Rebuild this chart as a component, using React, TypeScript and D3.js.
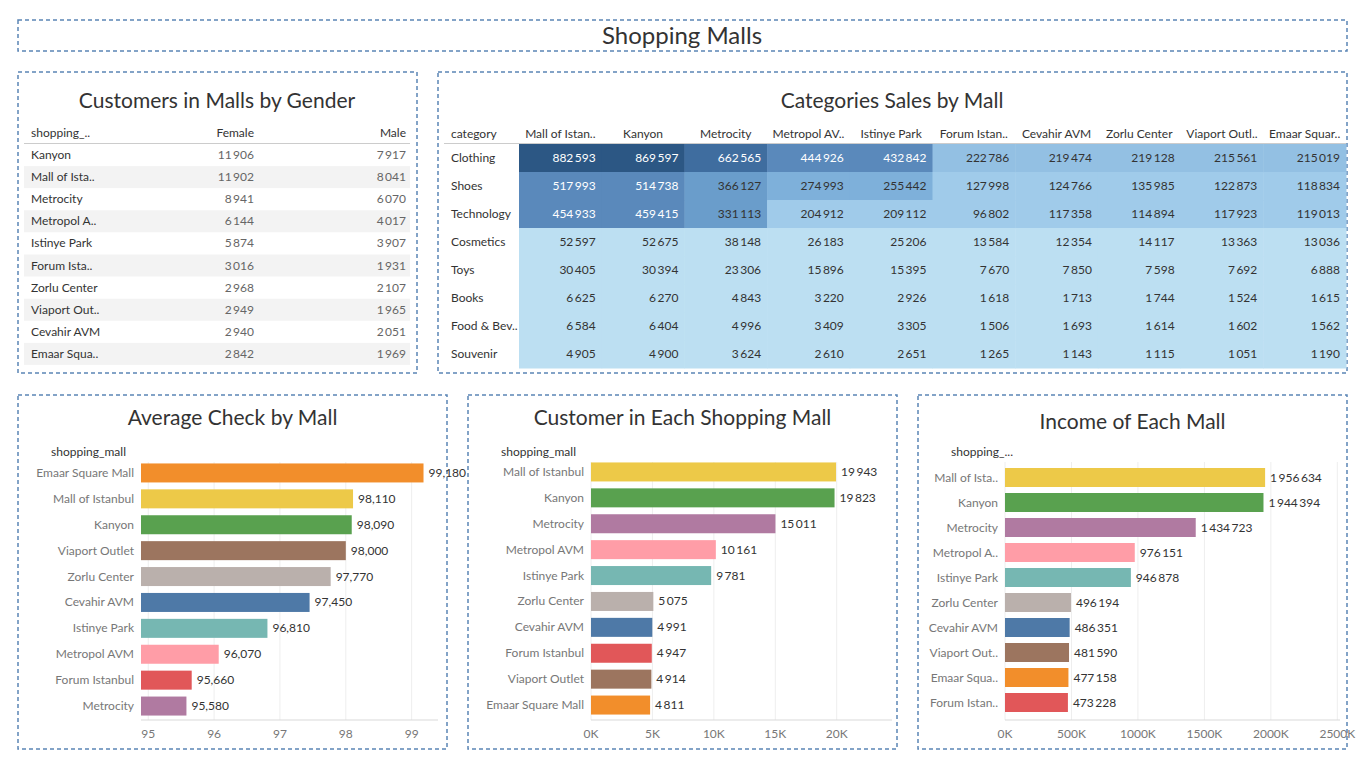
import * as d3 from 'd3';

const COLORS: Record<string, string> = {
  'Emaar Square Mall': '#f28e2b',
  'Mall of Istanbul': '#edc948',
  'Kanyon': '#59a14f',
  'Viaport Outlet': '#9c755f',
  'Zorlu Center': '#bab0ac',
  'Cevahir AVM': '#4e79a7',
  'Istinye Park': '#76b7b2',
  'Metropol AVM': '#ff9da7',
  'Forum Istanbul': '#e15759',
  'Metrocity': '#b07aa1',
};

const GENDER_MALLS = ['Kanyon', 'Mall of Ista..', 'Metrocity', 'Metropol A..', 'Istinye Park', 'Forum Ista..', 'Zorlu Center', 'Viaport Out..', 'Cevahir AVM', 'Emaar Squa..'];
const FEMALE = [11906, 11902, 8941, 6144, 5874, 3016, 2968, 2949, 2940, 2842];
const MALE = [7917, 8041, 6070, 4017, 3907, 1931, 2107, 1965, 2051, 1969];

const CATEGORIES = ['Clothing', 'Shoes', 'Technology', 'Cosmetics', 'Toys', 'Books', 'Food & Bev..', 'Souvenir'];
const HEAT_MALLS = ['Mall of Istan..', 'Kanyon', 'Metrocity', 'Metropol AV..', 'Istinye Park', 'Forum Istan..', 'Cevahir AVM', 'Zorlu Center', 'Viaport Outl..', 'Emaar Squar..'];
const SALES = [
  [882593, 869597, 662565, 444926, 432842, 222786, 219474, 219128, 215561, 215019],
  [517993, 514738, 366127, 274993, 255442, 127998, 124766, 135985, 122873, 118834],
  [454933, 459415, 331113, 204912, 209112, 96802, 117358, 114894, 117923, 119013],
  [52597, 52675, 38148, 26183, 25206, 13584, 12354, 14117, 13363, 13036],
  [30405, 30394, 23306, 15896, 15395, 7670, 7850, 7598, 7692, 6888],
  [6625, 6270, 4843, 3220, 2926, 1618, 1713, 1744, 1524, 1615],
  [6584, 6404, 4996, 3409, 3305, 1506, 1693, 1614, 1602, 1562],
  [4905, 4900, 3624, 2610, 2651, 1265, 1143, 1115, 1051, 1190],
];

const AVG_MALLS = ['Emaar Square Mall', 'Mall of Istanbul', 'Kanyon', 'Viaport Outlet', 'Zorlu Center', 'Cevahir AVM', 'Istinye Park', 'Metropol AVM', 'Forum Istanbul', 'Metrocity'];
const AVG_CHECK = [99.18, 98.11, 98.09, 98.0, 97.77, 97.45, 96.81, 96.07, 95.66, 95.58];
const AVG_TICKS = [95, 96, 97, 98, 99];

const CUST_MALLS = ['Mall of Istanbul', 'Kanyon', 'Metrocity', 'Metropol AVM', 'Istinye Park', 'Zorlu Center', 'Cevahir AVM', 'Forum Istanbul', 'Viaport Outlet', 'Emaar Square Mall'];
const CUSTOMERS = [19943, 19823, 15011, 10161, 9781, 5075, 4991, 4947, 4914, 4811];
const CUST_TICKS = [0, 5000, 10000, 15000, 20000];

const INC_MALLS = ['Mall of Istanbul', 'Kanyon', 'Metrocity', 'Metropol AVM', 'Istinye Park', 'Zorlu Center', 'Cevahir AVM', 'Viaport Outlet', 'Emaar Square Mall', 'Forum Istanbul'];
const INC_LABELS = ['Mall of Ista..', 'Kanyon', 'Metrocity', 'Metropol A..', 'Istinye Park', 'Zorlu Center', 'Cevahir AVM', 'Viaport Out..', 'Emaar Squa..', 'Forum Istan..'];
const INCOME = [1956634, 1944394, 1434723, 976151, 946878, 496194, 486351, 481590, 477158, 473228];
const INC_TICKS = [0, 500000, 1000000, 1500000, 2000000, 2500000];

const FONT = 'Lato, "Open Sans", sans-serif';
const BORDER = '#5b85b5';
const spaced = (v: number) => d3.format(',')(v).replace(/,/g, '\u2009');

function Box({ x, y, w, h }: { x: number; y: number; w: number; h: number }) {
  return <rect x={x} y={y} width={w} height={h} fill="none" stroke={BORDER} strokeWidth={1.5} strokeDasharray="4,3" />;
}

interface BarPanelProps {
  x0: number; title: string; titleY: number; header: string;
  labels: string[]; colors: string[]; values: number[];
  domain: [number, number]; range: [number, number];
  ticks: number[]; tickFmt: (v: number) => string; valFmt: (v: number) => string;
  rowTop: number; rowStep: number; barH: number; labelRight: number;
}

function BarPanel(p: BarPanelProps) {
  const x = d3.scaleLinear().domain(p.domain).range(p.range);
  const y = d3.scaleBand<number>().domain(d3.range(p.values.length)).range([p.rowTop, p.rowTop + p.rowStep * p.values.length]);
  const axisY = 720;
  return (
    <g>
      <Box x={p.x0} y={395} w={429} h={354} />
      <text x={p.x0 + 214.5} y={p.titleY} textAnchor="middle" fontSize={21} fill="#333">{p.title}</text>
      <text x={p.x0 + 33} y={456} fontSize={12} fill="#333">{p.header}</text>
      {p.ticks.map((t) => (
        <line key={t} x1={x(t)} x2={x(t)} y1={462} y2={axisY} stroke="#eeeeee" />
      ))}
      <line x1={p.range[0]} x2={p.range[1]} y1={axisY} y2={axisY} stroke="#d9d9d9" />
      {p.ticks.map((t) => (
        <text key={t} x={x(t)} y={axisY + 18} textAnchor="middle" fontSize={12} fill="#777">{p.tickFmt(t)}</text>
      ))}
      {p.values.map((v, i) => {
        const cy = y(i)! + p.rowStep / 2;
        return (
          <g key={i}>
            <text x={p.labelRight} y={cy + 4} textAnchor="end" fontSize={12} fill="#777">{p.labels[i]}</text>
            <rect x={p.range[0]} y={cy - p.barH / 2} width={x(v) - p.range[0]} height={p.barH} fill={p.colors[i]} />
            <text x={x(v) + 5} y={cy + 4} fontSize={12} fill="#333">{p.valFmt(v)}</text>
          </g>
        );
      })}
    </g>
  );
}

function heatFill(v: number) {
  return d3.scaleThreshold<number, string>()
    .domain([90000, 215000, 240000, 300000, 400000, 600000, 800000])
    .range(['#bcdff2', '#a0cbea', '#93c0e3', '#7eb0da', '#6a9dcb', '#5a89bb', '#3f6d9f', '#2c5784'])(v);
}

export default function App() {
  const colX = d3.scaleBand<number>().domain(d3.range(10)).range([519, 1346]);
  const rowY = d3.scaleBand<number>().domain(d3.range(8)).range([144, 368]);
  return (
    <svg width={1365} height={767} style={{ fontFamily: FONT, display: 'block', position: 'absolute', left: 0, top: 0 }}>
      <Box x={18} y={20} w={1329} h={31} />
      <text x={682} y={44} textAnchor="middle" fontSize={24} fill="#333">Shopping Malls</text>

      {/* gender table */}
      <Box x={18} y={72} w={399} h={301} />
      <text x={217} y={108} textAnchor="middle" fontSize={21} fill="#333">Customers in Malls by Gender</text>
      <text x={31} y={137} fontSize={12} fill="#333">shopping_..</text>
      <text x={254} y={137} textAnchor="end" fontSize={12} fill="#333">Female</text>
      <text x={406} y={137} textAnchor="end" fontSize={12} fill="#333">Male</text>
      <line x1={24} x2={410} y1={143.5} y2={143.5} stroke="#ccc" />
      {GENDER_MALLS.map((m, i) => {
        const cy = 155 + i * 22.1;
        return (
          <g key={m}>
            {i % 2 === 1 && <rect x={24} y={cy - 11} width={386} height={22} fill="#f3f3f3" />}
            <text x={31} y={cy + 4} fontSize={12} fill="#333">{m}</text>
            <text x={254} y={cy + 4} textAnchor="end" fontSize={12} fill="#666">{spaced(FEMALE[i])}</text>
            <text x={406} y={cy + 4} textAnchor="end" fontSize={12} fill="#666">{spaced(MALE[i])}</text>
          </g>
        );
      })}

      {/* heatmap */}
      <Box x={438} y={72} w={909} h={301} />
      <text x={892} y={108} textAnchor="middle" fontSize={21} fill="#333">Categories Sales by Mall</text>
      <text x={451} y={138} fontSize={12} fill="#333">category</text>
      {HEAT_MALLS.map((m, j) => (
        <text key={m} x={colX(j)! + colX.bandwidth() / 2} y={138} textAnchor="middle" fontSize={12} fill="#333">{m}</text>
      ))}
      <line x1={444} x2={1346} y1={143.5} y2={143.5} stroke="#ccc" />
      {CATEGORIES.map((c, i) => (
        <g key={c}>
          <text x={451} y={rowY(i)! + rowY.bandwidth() / 2 + 4} fontSize={12} fill="#333">{c}</text>
          {SALES[i].map((v, j) => (
            <g key={j}>
              <rect x={colX(j)} y={rowY(i)} width={colX.bandwidth() + 0.5} height={rowY.bandwidth() + 0.5} fill={heatFill(v)} />
              <text x={colX(j)! + colX.bandwidth() - 6} y={rowY(i)! + rowY.bandwidth() / 2 + 4} textAnchor="end" fontSize={12}
                fill={v >= 400000 ? '#ffffff' : '#333'}>{spaced(v)}</text>
            </g>
          ))}
        </g>
      ))}

      <BarPanel x0={18} title="Average Check by Mall" titleY={425} header="shopping_mall"
        labels={AVG_MALLS} colors={AVG_MALLS.map((m) => COLORS[m])} values={AVG_CHECK}
        domain={[94.89, 99.4]} range={[141, 438]} ticks={AVG_TICKS} tickFmt={(v) => String(v)}
        valFmt={(v) => d3.format(',')(Math.round(v * 1000))} rowTop={460} rowStep={25.9} barH={19} labelRight={134} />
      <BarPanel x0={468} title="Customer in Each Shopping Mall" titleY={425} header="shopping_mall"
        labels={CUST_MALLS} colors={CUST_MALLS.map((m) => COLORS[m])} values={CUSTOMERS}
        domain={[0, 24500]} range={[591, 892]} ticks={CUST_TICKS} tickFmt={(v) => `${v / 1000}K`}
        valFmt={spaced} rowTop={459} rowStep={25.9} barH={19} labelRight={584} />
      <BarPanel x0={918} title="Income of Each Mall" titleY={429} header="shopping_..."
        labels={INC_LABELS} colors={INC_MALLS.map((m) => COLORS[m])} values={INCOME}
        domain={[0, 2520000]} range={[1005, 1340]} ticks={INC_TICKS} tickFmt={(v) => `${v / 1000}K`}
        valFmt={spaced} rowTop={465} rowStep={25} barH={19} labelRight={998} />
    </svg>
  );
}
